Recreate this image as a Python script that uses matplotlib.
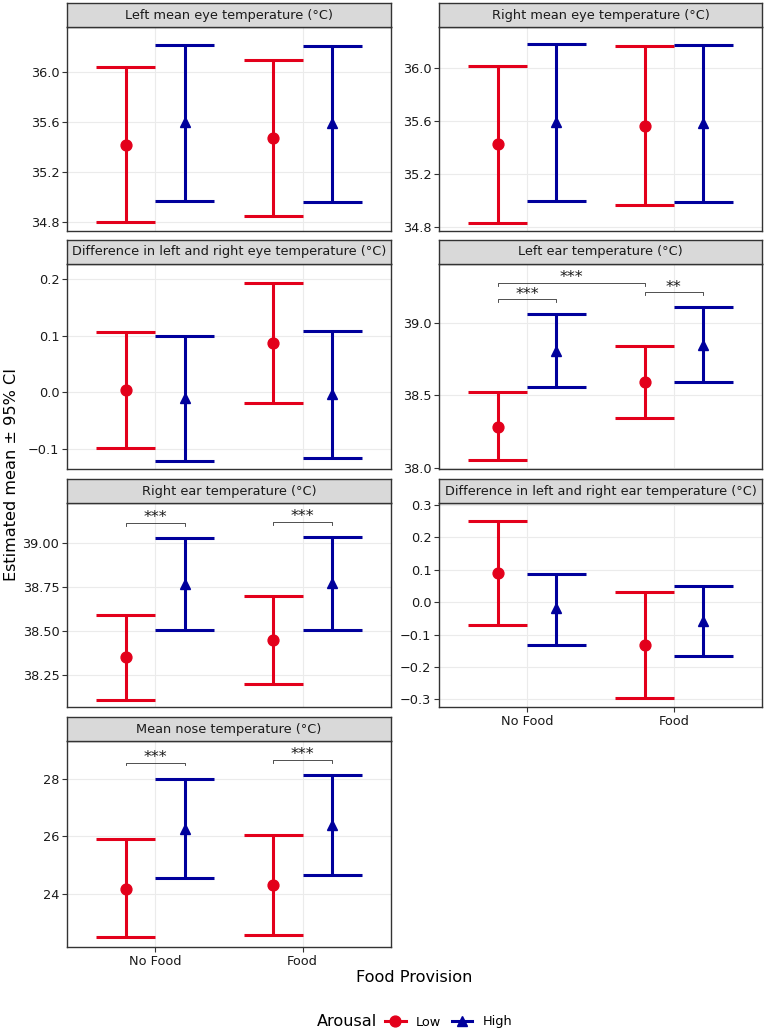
import matplotlib.pyplot as plt
from matplotlib.lines import Line2D

# -- data --
titles = ["Left mean eye temperature (°C)",
          "Right mean eye temperature (°C)",
          "Difference in left and right eye temperature (°C)",
          "Left ear temperature (°C)",
          "Right ear temperature (°C)",
          "Difference in left and right ear temperature (°C)",
          "Mean nose temperature (°C)"]
groups = ["No Food", "Food"]
levels = ["Low", "High"]

low_mean = [[35.42, 35.47], [35.42, 35.56], [0.004, 0.087], [38.28, 38.59],
            [38.35, 38.45], [0.09, -0.133], [24.18, 24.33]]
low_lower = [[34.80, 34.85], [34.83, 34.96], [-0.098, -0.018], [38.05, 38.34],
             [38.11, 38.20], [-0.069, -0.295], [22.49, 22.59]]
low_upper = [[36.04, 36.10], [36.01, 36.16], [0.107, 0.192], [38.52, 38.84],
             [38.59, 38.70], [0.25, 0.031], [25.91, 26.05]]
high_mean = [[35.60, 35.59], [35.59, 35.58], [-0.010, -0.003], [38.81, 38.85],
             [38.765, 38.77], [-0.019, -0.058], [26.27, 26.39]]
high_lower = [[34.97, 34.96], [34.995, 34.985], [-0.12, -0.115], [38.557, 38.594],
              [38.506, 38.506], [-0.132, -0.167], [24.56, 24.65]]
high_upper = [[36.22, 36.21], [36.18, 36.17], [0.099, 0.108], [39.067, 39.11],
              [39.027, 39.032], [0.088, 0.049], [28.0, 28.13]]

# significance brackets: (group1, level1, group2, level2, y, label)
brackets = [
    [], [], [],
    [("No Food", "Low", "No Food", "High", 39.166, "***"),
     ("No Food", "Low", "Food", "Low", 39.28, "***"),
     ("Food", "Low", "Food", "High", 39.215, "**")],
    [("No Food", "Low", "No Food", "High", 39.114, "***"),
     ("Food", "Low", "Food", "High", 39.12, "***")],
    [],
    [("No Food", "Low", "No Food", "High", 28.57, "***"),
     ("Food", "Low", "Food", "High", 28.67, "***")],
]

# axis ranges / ticks per panel
ylims = [(34.728, 36.36), (34.767, 36.307), (-0.1346, 0.226), (37.99, 39.41),
         (38.068, 39.226), (-0.3236, 0.306), (22.157, 29.32)]
yticks = [[34.8, 35.2, 35.6, 36.0], [34.8, 35.2, 35.6, 36.0], [-0.1, 0.0, 0.1, 0.2],
          [38.0, 38.5, 39.0], [38.25, 38.5, 38.75, 39.0],
          [-0.3, -0.2, -0.1, 0.0, 0.1, 0.2, 0.3], [24, 26, 28]]
yfmt = ["%.1f", "%.1f", "%.1f", "%.1f", "%.2f", "%.1f", "%.0f"]

RED = "#E3001B"
BLUE = "#00009C"
colors = {"Low": RED, "High": BLUE}
markers = {"Low": "o", "High": "^"}
msize = {"Low": 7.8, "High": 7.8}
dodge = {"Low": -0.2, "High": 0.2}
GREY20 = "#333333"
SMALL = 9.3
BIG = 11.6

W, H = 767, 1033
fig = plt.figure(figsize=(W / 100, H / 100), dpi=100)


def px(x0, y0, x1, y1):
    return [x0 / W, 1 - y1 / H, (x1 - x0) / W, (y1 - y0) / H]


col_x = [(67, 391), (439, 762)]
row_y = [(27, 231), (264, 469), (503, 707), (741, 947)]
bottom_panels = [5, 6]

series = {"Low": (low_mean, low_lower, low_upper),
          "High": (high_mean, high_lower, high_upper)}

for i, title in enumerate(titles):
    r, c = i // 2, i % 2
    x0, x1 = col_x[c]
    y0, y1 = row_y[r]
    ax = fig.add_axes(px(x0, y0, x1, y1))
    ax.set_facecolor("white")
    ax.set_axisbelow(True)
    ax.grid(True, color="#EBEBEB", lw=0.8)

    xs = list(range(1, len(groups) + 1))
    for lev in levels:
        m, lo, hi = series[lev]
        px_ = [x + dodge[lev] for x in xs]
        ax.vlines(px_, lo[i], hi[i], color=colors[lev], lw=2.2, capstyle="butt")
        ax.hlines(lo[i], [x - 0.2 for x in px_], [x + 0.2 for x in px_],
                  color=colors[lev], lw=2.2, capstyle="butt")
        ax.hlines(hi[i], [x - 0.2 for x in px_], [x + 0.2 for x in px_],
                  color=colors[lev], lw=2.2, capstyle="butt")
        ax.plot(px_, m[i], ls="none", marker=markers[lev], ms=msize[lev],
                color=colors[lev], zorder=5)

    ymin, ymax = ylims[i]
    tip = (ymax - ymin) * 0.014
    for g1, l1, g2, l2, yb, lab in brackets[i]:
        xa = groups.index(g1) + 1 + dodge[l1]
        xb = groups.index(g2) + 1 + dodge[l2]
        ax.plot([xa, xa, xb, xb], [yb - tip, yb, yb, yb - tip], color=GREY20, lw=0.6)
        ax.annotate(lab, ((xa + xb) / 2, yb), xytext=(0, 0.3), textcoords="offset points",
                    ha="center", va="baseline", fontsize=11.5, color="#1A1A1A")

    ax.set_xlim(0.4, 2.6)
    ax.set_ylim(ymin, ymax)
    ax.set_yticks(yticks[i])
    ax.set_yticklabels([(yfmt[i] % v).replace("-", "\u2212") for v in yticks[i]])
    ax.set_xticks(xs)
    if i in bottom_panels:
        ax.set_xticklabels(groups)
        ax.tick_params(axis="x", length=3.5, width=0.8, color=GREY20, pad=2,
                       labelsize=SMALL, labelcolor="#1A1A1A")
    else:
        ax.set_xticklabels([])
        ax.tick_params(axis="x", length=0)
    ax.tick_params(axis="y", length=3.5, width=0.8, color=GREY20, pad=2,
                   labelsize=SMALL, labelcolor="#1A1A1A")
    for s in ax.spines.values():
        s.set_color(GREY20)
        s.set_linewidth(1.0)

    st = fig.add_axes(px(x0, y0 - 24, x1, y0))
    st.set_facecolor("#D9D9D9")
    st.set_xticks([])
    st.set_yticks([])
    for s in st.spines.values():
        s.set_color(GREY20)
        s.set_linewidth(1.0)
    st.text(0.5, 0.5, title, ha="center", va="center", fontsize=SMALL,
            color="#1A1A1A", transform=st.transAxes)

fig.text(12 / W, 1 - 474 / H, "Estimated mean \u00b1 95% CI", rotation=90,
         ha="center", va="center", fontsize=BIG)
fig.text(414 / W, 1 - 977 / H, "Food Provision", ha="center", va="center", fontsize=BIG)

# legend
fig.text(317 / W, 1 - 1022 / H, "Arousal", ha="left", va="center", fontsize=BIG)
handles = [Line2D([], [], color=colors[l], marker=markers[l], lw=2.2, ms=msize[l])
           for l in levels]
fig.legend(handles, levels, loc="center left", bbox_to_anchor=(385 / W, 1 - 1022 / H),
           ncol=2, frameon=False, fontsize=SMALL, handlelength=1.6, handletextpad=0.8,
           columnspacing=0.8, borderpad=0, borderaxespad=0)

fig.savefig("out.png", dpi=100)
